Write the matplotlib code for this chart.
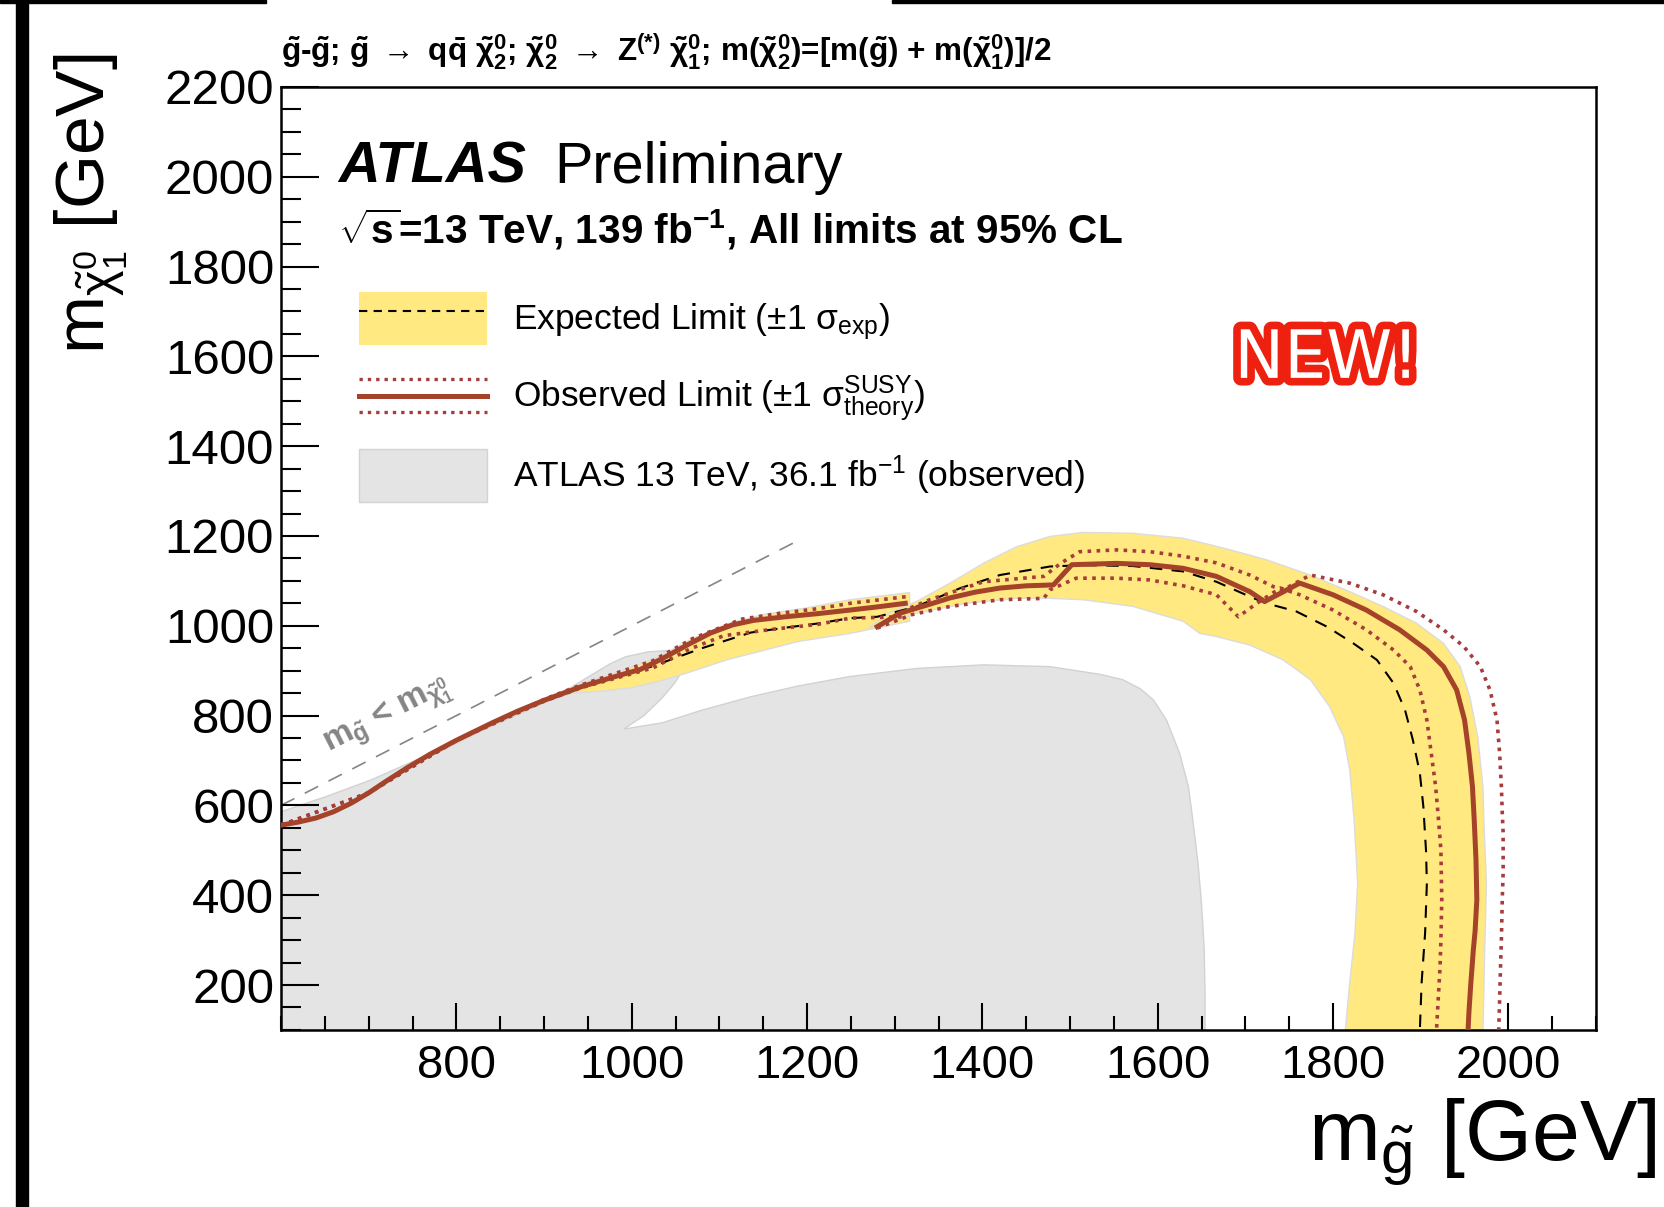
import matplotlib
matplotlib.use("Agg")
import matplotlib.pyplot as plt
import matplotlib.patheffects as pe
from matplotlib.patches import Patch, Rectangle
from matplotlib.lines import Line2D
from matplotlib.legend_handler import HandlerBase, HandlerTuple
import numpy as np

plt.rcParams['font.family'] = ['Liberation Sans', 'DejaVu Sans']
plt.rcParams['mathtext.fontset'] = 'custom'
plt.rcParams['mathtext.rm'] = 'Liberation Sans'
plt.rcParams['mathtext.it'] = 'Liberation Sans:italic'
plt.rcParams['mathtext.bf'] = 'Liberation Sans:bold'
plt.rcParams['mathtext.sf'] = 'Liberation Sans'

# observed limit, two pieces
obs_a_x = [600, 620, 640, 660, 680, 700, 720, 744, 770, 800, 841, 870, 900, 942, 983, 1010, 1035, 1066,
           1090, 1115, 1139, 1175, 1212, 1249, 1280, 1312]
obs_a_y = [556, 563, 572, 586, 605, 628, 654, 684, 714, 745, 784, 810, 834, 864, 888, 903, 927, 960,
           984, 1002, 1012, 1020, 1027, 1035, 1042, 1050]
obs_b_x = [1280, 1306, 1340, 1363, 1392, 1420, 1450, 1481, 1502, 1553, 1591, 1629, 1667, 1705, 1722, 1762,
           1800, 1838, 1876, 1907, 1926, 1941, 1950, 1955, 1959, 1961, 1963, 1964, 1962, 1960, 1957, 1955, 1954]
obs_b_y = [998, 1028, 1048, 1062, 1075, 1084, 1089, 1091, 1136, 1139, 1136, 1128, 1110, 1076, 1054, 1095,
           1069, 1035, 991, 946, 909, 857, 790, 716, 642, 568, 480, 390, 320, 278, 200, 140, 100]

# observed +-1 sigma theory
up_a_x = [600, 700, 800, 900, 942, 1024, 1070, 1126, 1170, 1212, 1249, 1314]
up_a_y = [556, 628, 745, 836, 868, 922, 972, 1015, 1028, 1038, 1050, 1065]
dn_a_x = [600, 700, 800, 900, 942, 1024, 1066, 1105, 1160, 1212, 1249, 1309]
dn_a_y = [556, 628, 745, 832, 862, 906, 948, 978, 992, 1003, 1017, 1020]
up_b_x = [1318, 1340, 1401, 1470, 1490, 1511, 1553, 1591, 1629, 1667, 1705, 1732, 1743, 1774, 1819, 1857,
          1895, 1926, 1949, 1968, 1979, 1987, 1990, 1992, 1993, 1994, 1994, 1993, 1992, 1991, 1989]
up_b_y = [1040, 1058, 1098, 1110, 1140, 1165, 1169, 1165, 1155, 1140, 1113, 1087, 1080, 1113, 1095, 1069,
          1032, 991, 954, 909, 857, 790, 716, 642, 583, 539, 450, 390, 300, 240, 100]
dn_b_x = [1280, 1320, 1363, 1420, 1470, 1477, 1507, 1553, 1591, 1629, 1667, 1692, 1713, 1740, 1762, 1800,
          1838, 1869, 1888, 1899, 1907, 1912, 1917, 1920, 1923, 1924, 1923, 1922, 1920, 1918]
dn_b_y = [995, 1025, 1043, 1058, 1061, 1080, 1106, 1106, 1102, 1089, 1069, 1020, 1050, 1084, 1069, 1035,
          991, 946, 909, 857, 790, 716, 642, 575, 501, 390, 300, 240, 170, 100]

# expected limit
exp_x = [600, 620, 640, 660, 680, 700, 720, 744, 770, 800, 841, 870, 900, 942, 983, 1024, 1080, 1136,
         1180, 1212, 1249, 1280, 1325, 1375, 1420, 1477, 1515, 1572, 1629, 1667, 1705, 1724, 1758, 1793,
         1823, 1850, 1869, 1882, 1891, 1899, 1903, 1906, 1907, 1905, 1901, 1899]
exp_y = [556, 563, 572, 586, 605, 628, 654, 684, 714, 745, 784, 810, 834, 864, 886, 910, 950, 985,
         997, 1005, 1017, 1020, 1043, 1084, 1113, 1132, 1135, 1133, 1121, 1098, 1065, 1050, 1032, 998,
         961, 924, 872, 813, 746, 672, 597, 500, 427, 316, 205, 100]

# expected +-1 sigma band, two pieces (upper edge, then lower edge back)
b1_up_x = [760, 800, 850, 900, 940, 985, 1030, 1070, 1110, 1150, 1200, 1249, 1317]
b1_up_y = [705, 745, 795, 838, 870, 897, 930, 972, 1005, 1025, 1040, 1058, 1074]
b1_dn_x = [1317, 1249, 1190, 1110, 1060, 1030, 1000, 968, 932, 880, 800, 760]
b1_dn_y = [1010, 983, 965, 925, 893, 876, 862, 855, 850, 815, 737, 700]
b2_up_x = [1270, 1295, 1325, 1363, 1401, 1439, 1477, 1515, 1572, 1629, 1667, 1700, 1724, 1774, 1819,
           1857, 1895, 1926, 1945, 1956, 1965, 1971, 1972, 1975, 1973, 1971]
b2_up_y = [995, 1030, 1054, 1095, 1139, 1176, 1199, 1208, 1206, 1195, 1177, 1160, 1147, 1113, 1076,
           1043, 1006, 961, 909, 842, 753, 642, 568, 427, 278, 100]
b2_dn_x = [1814, 1819, 1825, 1828, 1824, 1819, 1812, 1796, 1774, 1743, 1705, 1667, 1648, 1629, 1572,
           1515, 1477, 1439, 1382, 1325, 1280]
b2_dn_y = [100, 205, 316, 427, 568, 679, 753, 820, 880, 924, 957, 976, 983, 1010, 1043,
           1058, 1061, 1061, 1050, 1028, 998]

# ATLAS 13 TeV 36.1 fb-1 observed region
gray_x = [600, 600, 652, 703, 754, 805, 856, 907, 958, 975, 993, 1019, 1044, 1057, 1062, 1058, 1048, 1035,
          1014, 991, 1035, 1080, 1136, 1190, 1249, 1325, 1401, 1477, 1534, 1560, 1580, 1595, 1610, 1625,
          1635, 1640, 1646, 1650, 1653, 1654, 1654]
gray_y = [100, 586, 620, 657, 701, 746, 790, 835, 895, 915, 931, 942, 945, 938, 925, 900, 870, 840,
          800, 770, 784, 812, 842, 866, 887, 905, 913, 909, 892, 880, 860, 835, 790, 716,
          642, 568, 470, 380, 280, 180, 100]

# kinematic boundary m_gluino = m_chi
diag_x = [600, 1190]
diag_y = [600, 1190]

yellow = '#ffe980'
grey = '#e4e4e4'
obs_col = '#a5432a'
dot_col = '#a63c3c'
dotted = (0, (1, 1.5))

fig = plt.figure(figsize=(16.65, 12.07), dpi=100)
ax = fig.add_axes([0.1688, 0.1467, 0.7898, 0.7813])

ax.fill(gray_x, gray_y, fc=grey, ec='#d2d2d2', lw=1, zorder=1)
ax.plot(diag_x, diag_y, color='#858585', lw=1.2, dashes=(9, 7), zorder=1.5)
ax.text(722, 797, r'm$_{\mathbf{\tilde{g}}}$ < m$_{\mathbf{\tilde{\chi}^{0}_{1}}}$', rotation=27,
        ha='center', va='center', fontsize=24, fontweight='bold', color='#858585', zorder=1.5)

ax.fill(b1_up_x + b1_dn_x, b1_up_y + b1_dn_y, fc=yellow, ec='#dcdcdc', lw=1, zorder=2)
ax.fill(b2_up_x + b2_dn_x, b2_up_y + b2_dn_y, fc=yellow, ec='#dcdcdc', lw=1, zorder=2)
ax.plot(exp_x, exp_y, color='black', lw=1.5, dashes=(6, 4.5), zorder=3)
for xs, ys in [(up_a_x, up_a_y), (dn_a_x, dn_a_y), (up_b_x, up_b_y), (dn_b_x, dn_b_y)]:
    ax.plot(xs, ys, color=dot_col, lw=2.6, linestyle=dotted, zorder=4)
ax.plot(obs_a_x, obs_a_y, color=obs_col, lw=3.6, solid_joinstyle='round', zorder=5)
ax.plot(obs_b_x, obs_b_y, color=obs_col, lw=3.6, solid_joinstyle='round', zorder=5)

ax.set_xlim(600, 2100)
ax.set_ylim(100, 2200)
ax.set_xticks(np.arange(800, 2001, 200))
ax.set_xticks(np.arange(600, 2101, 50), minor=True)
ax.set_yticks(np.arange(200, 2201, 200))
ax.set_yticks(np.arange(100, 2201, 50), minor=True)
ax.tick_params(which='both', direction='in', top=False, right=False, width=1.5)
ax.tick_params(axis='x', which='major', length=19.5, pad=10, labelsize=34)
ax.tick_params(axis='x', which='minor', length=10)
ax.tick_params(axis='y', which='major', length=27, pad=5, labelsize=35.5)
ax.tick_params(axis='y', which='minor', length=14.5)
for s in ax.spines.values():
    s.set_linewidth(1.8)


# legend key with the observed line between its two dotted bands
class ObsHandler(HandlerBase):
    def create_artists(self, legend, orig_handle, xdescent, ydescent, width, height, fontsize, trans):
        mid = height / 2 - ydescent
        x0, x1 = -xdescent, width - xdescent
        solid = Line2D([x0, x1], [mid, mid], color=obs_col, lw=3.6, transform=trans)
        d1 = Line2D([x0, x1], [mid + 0.31 * height] * 2, color=dot_col, lw=2.4, linestyle=dotted, transform=trans)
        d2 = Line2D([x0, x1], [mid - 0.31 * height] * 2, color=dot_col, lw=2.4, linestyle=dotted, transform=trans)
        return [d1, solid, d2]


h_exp = (Patch(fc=yellow, ec='none'), Line2D([], [], color='black', lw=1.5, dashes=(4, 3)))
h_obs = Line2D([], [])
h_old = Patch(fc=grey, ec='#d2d2d2', lw=1)
labels = [r'Expected Limit ($\pm$1 $\mathrm{\sigma}_{\mathrm{exp}}$)',
          r'Observed Limit ($\pm$1 $\mathrm{\sigma}^{\mathrm{SUSY}}_{\mathrm{theory}}$)',
          r'ATLAS 13 TeV, 36.1 fb$^{\mathrm{-1}}$ (observed)']
leg = ax.legend([h_exp, h_obs, h_old], labels, loc='upper left', bbox_to_anchor=(0.0593, 0.7826),
                frameon=False, borderpad=0, borderaxespad=0, fontsize=25.5,
                handlelength=3.6, handleheight=1.93, labelspacing=0.68, handletextpad=0.76,
                handler_map={tuple: HandlerTuple(ndivide=1, pad=0), h_obs: ObsHandler()})

ax.text(0.0433, 0.8986, 'ATLAS', transform=ax.transAxes, fontsize=41.5, fontweight='bold',
        fontstyle='italic', ha='left', va='baseline')
ax.text(0.2076, 0.8986, 'Preliminary', transform=ax.transAxes, fontsize=41.5, ha='left', va='baseline')
ax.text(0.0433, 0.8335, r'$\mathbf{\sqrt{s}}$=13 TeV, 139 fb$^{\mathbf{-1}}$, All limits at 95% CL',
        transform=ax.transAxes, fontsize=29.2, fontweight='bold', ha='left', va='baseline')
title = (r'$\mathbf{\tilde{g}}$-$\mathbf{\tilde{g}}$; $\mathbf{\tilde{g}}$ $\mathbf{\rightarrow}$ '
         r'q$\mathbf{\bar{q}}$ $\mathbf{\tilde{\chi}^{0}_{2}}$; $\mathbf{\tilde{\chi}^{0}_{2}}$ '
         r'$\mathbf{\rightarrow}$ Z$^{\mathbf{(*)}}$ $\mathbf{\tilde{\chi}^{0}_{1}}$; '
         r'm($\mathbf{\tilde{\chi}^{0}_{2}}$)=[m($\mathbf{\tilde{g}}$) + m($\mathbf{\tilde{\chi}^{0}_{1}}$)]/2')
ax.text(0.0, 1.027, title, transform=ax.transAxes, fontsize=22.7, fontweight='bold',
        ha='left', va='baseline')

ax.text(0.795, 0.7116, 'NEW!', transform=ax.transAxes, ha='center', va='center', fontsize=48,
        family='DejaVu Sans', color='white',
        path_effects=[pe.Stroke(linewidth=11, foreground='#ee2010'), pe.Normal()])

fig.text(0.995, 0.039, r'm$_{\mathrm{\tilde{g}}}$ [GeV]', fontsize=62, ha='right', va='baseline')
fig.text(0.055, 0.956, r'm$_{\mathrm{\tilde{\chi}^{0}_{1}}}$ [GeV]', fontsize=50, rotation=90,
         ha='center', va='top')

# black borders of the original screenshot
fig.add_artist(Rectangle((16 / 1665, 0), 12 / 1665, 1, transform=fig.transFigure, color='black'))
fig.add_artist(Rectangle((0, 1 - 3 / 1207), 266 / 1665, 3 / 1207, transform=fig.transFigure, color='black'))
fig.add_artist(Rectangle((892 / 1665, 1 - 3 / 1207), 773 / 1665, 3 / 1207, transform=fig.transFigure,
                         color='black'))

fig.savefig('out.png', dpi=100)
